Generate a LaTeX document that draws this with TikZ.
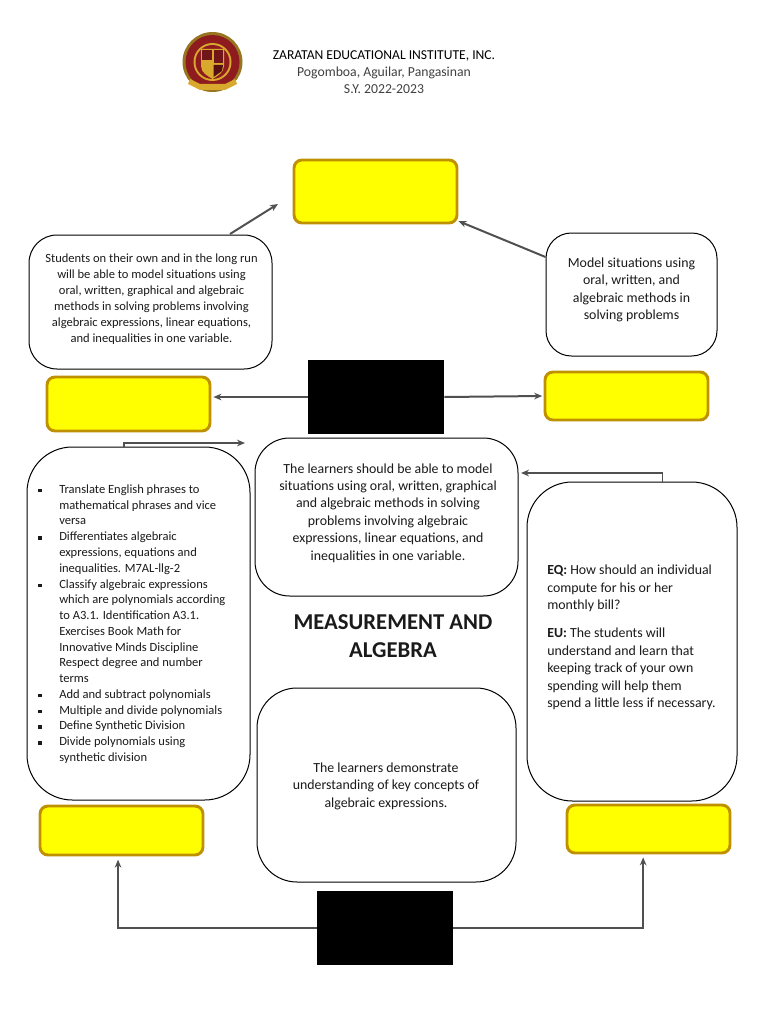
\documentclass[tikz,border=0pt]{standalone}
\usepackage{fontspec}
\setmainfont{Carlito}
\usetikzlibrary{calc,arrows.meta}
\definecolor{ybord}{HTML}{BF9000}
\definecolor{yfill}{HTML}{FFFF00}
\definecolor{arrowgray}{HTML}{505050}
\definecolor{txt}{HTML}{1A1A1A}
\definecolor{maroon}{HTML}{8E1B1E}
\definecolor{gold}{HTML}{D9A92E}
\tikzset{
  ybox/.style={draw=ybord,fill=yfill,line width=2.2pt,rounded corners=6pt,inner sep=0pt},
  wbox/.style={draw=black,fill=white,line width=0.75pt,inner sep=0pt},
  blk/.style={fill=black,inner sep=0pt},
  sz/.style 2 args={minimum width=#1*0.75pt,minimum height=#2*0.75pt},
  conn/.style={draw=arrowgray,line width=1.5pt,-{Stealth[length=6pt,width=5pt]}},
  lbl/.style={inner sep=0pt,text=txt,align=center},
  fa/.style={font=\fontsize{10.4}{13.1}\selectfont},
  fb/.style={font=\fontsize{9.4}{12.1}\selectfont},
  fc/.style={font=\fontsize{17}{21}\selectfont\bfseries},
}
\begin{document}
\begin{tikzpicture}[x=0.75pt,y=-0.75pt]
\useasboundingbox (0,0) rectangle (768,1024);
% logo
\fill[gold!70!black] (212.5,62) circle (30);
\fill[maroon] (212.5,62) circle (27);
\fill[gold] (212.5,62) circle (19);
\fill[maroon] (212.5,62) circle (17);
\fill[gold] (201,49) -- (224,49) -- (224,66) .. controls (224,73) and (217,76) .. (212.5,79) .. controls (208,76) and (201,73) .. (201,66) -- cycle;
\fill[maroon!80!black] (213.5,50) rectangle (223,63);
\fill[maroon!80!black] (202,50) rectangle (211.5,60);
\fill[maroon!60!black] (213.5,65) -- (223,65) -- (222,71) -- (213.5,77) -- cycle;
\fill[gold] (190,79) -- (200,84) -- (225,84) -- (235,79) -- (237,84) -- (225,90) -- (200,90) -- (188,84) -- cycle;
% header
\node[lbl,font=\fontsize{10.2}{13}\selectfont,text=black] (h1) at (384,55.5) {ZARATAN EDUCATIONAL INSTITUTE, INC.};
\node[lbl,font=\fontsize{10.3}{13}\selectfont,text=black!75] (h2) at (384,72.5) {Pogomboa, Aguilar, Pangasinan};
\node[lbl,font=\fontsize{10.3}{13}\selectfont,text=black!75] (h3) at (384,89.5) {S.Y. 2022-2023};
% boxes
\node[ybox,sz={163}{63}] (ytop) at (375.5,191.5) {};
\node[wbox,sz={243}{134},rounded corners=21pt] (ltext) at (150.5,302) {};
\node[wbox,sz={171}{123},rounded corners=19pt] (rtext) at (631.5,294.5) {};
\node[blk,sz={136}{74}] (black1) at (376,397) {};
\node[ybox,sz={163}{54}] (yl) at (128.5,404) {};
\node[ybox,sz={163}{48}] (yr) at (626.5,396) {};
\node[wbox,sz={223}{353},rounded corners=34pt] (lbig) at (138.5,623.5) {};
\node[wbox,sz={263}{158},rounded corners=26pt] (cup) at (386.5,517) {};
\node[wbox,sz={210}{319},rounded corners=34pt] (rbig) at (632,641.5) {};
\node[wbox,sz={259}{194},rounded corners=30pt] (clow) at (386.5,785) {};
\node[ybox,sz={163}{49}] (ybl) at (121.5,830.5) {};
\node[ybox,sz={163}{48}] (ybr) at (648.5,829) {};
\node[blk,sz={136}{74}] (black2) at (385,928) {};
% texts
\node[lbl,fb] (tl) at (151.5,299) {Students on their own and in the long run\\will be able to model situations using\\oral, written, graphical and algebraic\\methods in solving problems involving\\algebraic expressions, linear equations,\\and inequalities in one variable.};
\node[lbl,fa] (tr) at (631.5,290) {Model situations using\\oral, written, and\\algebraic methods in\\solving problems};
\node[lbl,fa] (tc) at (388,513) {The learners should be able to model\\situations using oral, written, graphical\\and algebraic methods in solving\\problems involving algebraic\\expressions, linear equations, and\\inequalities in one variable.};
\node[lbl,fc] (title) at (393,636) {MEASUREMENT AND\\ALGEBRA};
\node[lbl,fa] (tlow) at (386,786) {The learners demonstrate\\understanding of key concepts of\\algebraic expressions.};
\node[lbl,fa,align=left,anchor=north west] (tq) at (547,565) {\textbf{EQ:} How should an individual\\compute for his or her\\monthly bill?\\[8pt]\textbf{EU:} The students will\\understand and learn that\\keeping track of your own\\spending will help them\\spend a little less if necessary.};
\newcommand{\itm}{\leavevmode\llap{\rule[0.8pt]{2.6pt}{2.6pt}\hspace{13pt}}}
\node[lbl,align=left,anchor=north west,font=\fontsize{9.4}{11.82}\selectfont] (tlist) at (59,484.5) {\itm Translate English phrases to\\mathematical phrases and vice\\versa\\\itm Differentiates algebraic\\expressions, equations and\\inequalities. M7AL-llg-2\\\itm Classify algebraic expressions\\which are polynomials according\\to A3.1. Identification A3.1.\\Exercises Book Math for\\Innovative Minds Discipline\\Respect degree and number\\terms\\\itm Add and subtract polynomials\\\itm Multiple and divide polynomials\\\itm Define Synthetic Division\\\itm Divide polynomials using\\synthetic division};
% connectors
\coordinate (e1) at (278,204);
\coordinate (s1) at (230,234);
\draw[conn] (s1) -- (e1);
\draw[conn] (rtext.west |- 0,257) -- ([yshift=2.5pt]ytop.south east);
\draw[conn] (black1.west) -- ([xshift=1.5pt]yl.east |- black1.west);
\draw[conn] (black1.east) -- ([xshift=-1pt]yr.west);
\coordinate (e2) at (245,443);
\draw[conn,line width=1pt] ([xshift=-11pt]lbig.north) |- (e2);
\coordinate (e3) at (521,473);
\draw[conn,line width=1pt] ([xshift=23pt]rbig.north) |- (e3);
\draw[conn] (black2.west) -| ([xshift=-2.6pt,yshift=-2.4pt]ybl.south);
\draw[conn] (black2.east) -| ([xshift=-4pt,yshift=-2.2pt]ybr.south);
\end{tikzpicture}
\end{document}
